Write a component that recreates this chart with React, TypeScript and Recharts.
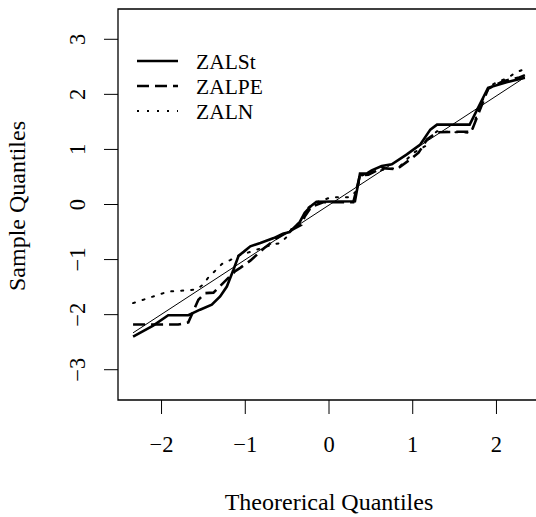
import React from 'react';
import { LineChart, Line, XAxis, YAxis, ReferenceArea } from 'recharts';

// theoretical quantile (x) / sample quantile (y) pairs
const zalStX = [-2.34, -2.1, -1.92, -1.68, -1.54, -1.4, -1.3, -1.22, -1.14, -1.08, -1.02, -0.94, -0.82, -0.66, -0.55, -0.47, -0.35, -0.29, -0.21, -0.15, 0.31, 0.37, 0.45, 0.51, 0.63, 0.75, 0.93, 1.09, 1.21, 1.29, 1.68, 1.9, 2.12, 2.34];
const zalStY = [-2.4, -2.2, -2.01, -2.01, -1.91, -1.82, -1.67, -1.49, -1.18, -0.93, -0.86, -0.76, -0.7, -0.61, -0.53, -0.5, -0.32, -0.15, -0.02, 0.05, 0.06, 0.56, 0.56, 0.62, 0.7, 0.73, 0.91, 1.09, 1.36, 1.45, 1.45, 2.12, 2.22, 2.3];

const zalPeX = [-2.34, -1.8, -1.68, -1.56, -1.48, -1.38, -1.22, -1.12, -1.06, -0.94, -0.78, -0.62, -0.47, -0.33, -0.29, -0.21, -0.07, 0.29, 0.37, 0.47, 0.63, 0.81, 0.97, 1.07, 1.17, 1.29, 1.5, 1.7, 1.9, 2.08, 2.26, 2.34];
const zalPeY = [-2.18, -2.18, -2.14, -1.73, -1.61, -1.6, -1.36, -1.21, -1.15, -1.02, -0.8, -0.61, -0.48, -0.37, -0.22, -0.04, 0.04, 0.04, 0.53, 0.54, 0.66, 0.64, 0.82, 0.94, 1.18, 1.31, 1.32, 1.32, 2.1, 2.24, 2.3, 2.35];

const zalNX = [-2.34, -2.12, -1.92, -1.7, -1.58, -1.5, -1.43, -1.34, -1.28, -1.18, -1.1, -0.98, -0.82, -0.68, -0.58, -0.5, -0.45, -0.33, -0.25, -0.17, -0.07, 0.02, 0.25, 0.33, 0.38, 0.5, 0.65, 0.83, 1.01, 1.15, 1.18, 1.29, 1.7, 1.8, 1.92, 2.0, 2.14, 2.22, 2.32];
const zalNY = [-1.79, -1.68, -1.58, -1.56, -1.54, -1.45, -1.3, -1.18, -1.08, -1.01, -0.94, -0.88, -0.8, -0.73, -0.7, -0.58, -0.45, -0.3, -0.06, 0.03, 0.08, 0.13, 0.13, 0.25, 0.52, 0.58, 0.63, 0.67, 0.94, 1.06, 1.18, 1.33, 1.3, 1.8, 2.14, 2.22, 2.3, 2.39, 2.45];

const refLineX = [-2.34, 2.34];
const refLineY = [-2.33, 2.31];

const xTicks = [-2, -1, 0, 1, 2];
const yTicks = [-3, -2, -1, 0, 1, 2, 3];

const legendNames = ['ZALSt', 'ZALPE', 'ZALN'];
const legendDash = ['', '12 6', '2 8'];

const xDomain = [-2.52, 2.52];
const yDomain = [-3.55, 3.55];

const toPoints = (xs: number[], ys: number[]) => xs.map((x, i) => ({ x, y: ys[i] }));

const FONT = '"Liberation Serif", "Times New Roman", serif';

const minus = (v: number) => String(v).replace('-', '\u2212');

const XTick = (props: any) => {
  const { x, payload } = props;
  return (
    <text x={x} y={452} textAnchor="middle" fontFamily={FONT} fontSize={22.5} fill="#000">
      {minus(payload.value)}
    </text>
  );
};

const YTick = (props: any) => {
  const { y, payload } = props;
  return (
    <text x={85} y={y} transform={`rotate(-90, 85, ${y})`} textAnchor="middle" fontFamily={FONT} fontSize={22.5} fill="#000">
      {minus(payload.value)}
    </text>
  );
};

const Decorations = () => (
  <g fontFamily={FONT} fill="#000">
    <text x={329} y={510} textAnchor="middle" fontSize={24}>Theorerical Quantiles</text>
    <text x={25} y={206} transform="rotate(-90, 25, 206)" textAnchor="middle" fontSize={24}>Sample Quantiles</text>
    {legendNames.map((name, i) => {
      const ly = 61 + i * 25;
      return (
        <g key={name}>
          <line x1={137} x2={178} y1={ly} y2={ly} stroke="#000" strokeWidth={i === 2 ? 2 : 2.6} strokeDasharray={legendDash[i] || undefined} />
          <text x={196} y={ly + 8} fontSize={21.5}>{name}</text>
        </g>
      );
    })}
  </g>
);

const App: React.FC = () => {
  return (
    <div style={{ position: 'absolute', left: 0, top: 0, width: 536, height: 517, overflow: 'hidden', background: '#fff' }}>
      <LineChart width={545} height={517} margin={{ top: 9, right: 5, left: 0, bottom: 0 }}>
        <XAxis
          dataKey="x"
          type="number"
          domain={xDomain}
          ticks={xTicks}
          allowDataOverflow
          axisLine={false}
          tickSize={14}
          tickLine={{ stroke: '#000', strokeWidth: 1 }}
          tick={<XTick />}
          height={117}
        />
        <YAxis
          dataKey="y"
          type="number"
          domain={yDomain}
          ticks={yTicks}
          allowDataOverflow
          axisLine={false}
          tickSize={14}
          tickLine={{ stroke: '#000', strokeWidth: 1 }}
          tick={<YTick />}
          width={118}
        />
        <ReferenceArea x1={xDomain[0]} x2={xDomain[1]} y1={yDomain[0]} y2={yDomain[1]} fill="none" stroke="#000" strokeWidth={1.3} />
        <Line data={toPoints(refLineX, refLineY)} dataKey="y" type="linear" stroke="#000" strokeWidth={1} dot={false} isAnimationActive={false} />
        <Line data={toPoints(zalNX, zalNY)} dataKey="y" type="linear" stroke="#000" strokeWidth={2} strokeDasharray="2 8" strokeLinecap="round" dot={false} isAnimationActive={false} />
        <Line data={toPoints(zalPeX, zalPeY)} dataKey="y" type="linear" stroke="#000" strokeWidth={2.6} strokeDasharray="12 6" dot={false} isAnimationActive={false} />
        <Line data={toPoints(zalStX, zalStY)} dataKey="y" type="linear" stroke="#000" strokeWidth={2.6} dot={false} isAnimationActive={false} />
        <Decorations />
      </LineChart>
    </div>
  );
};

export default App;
